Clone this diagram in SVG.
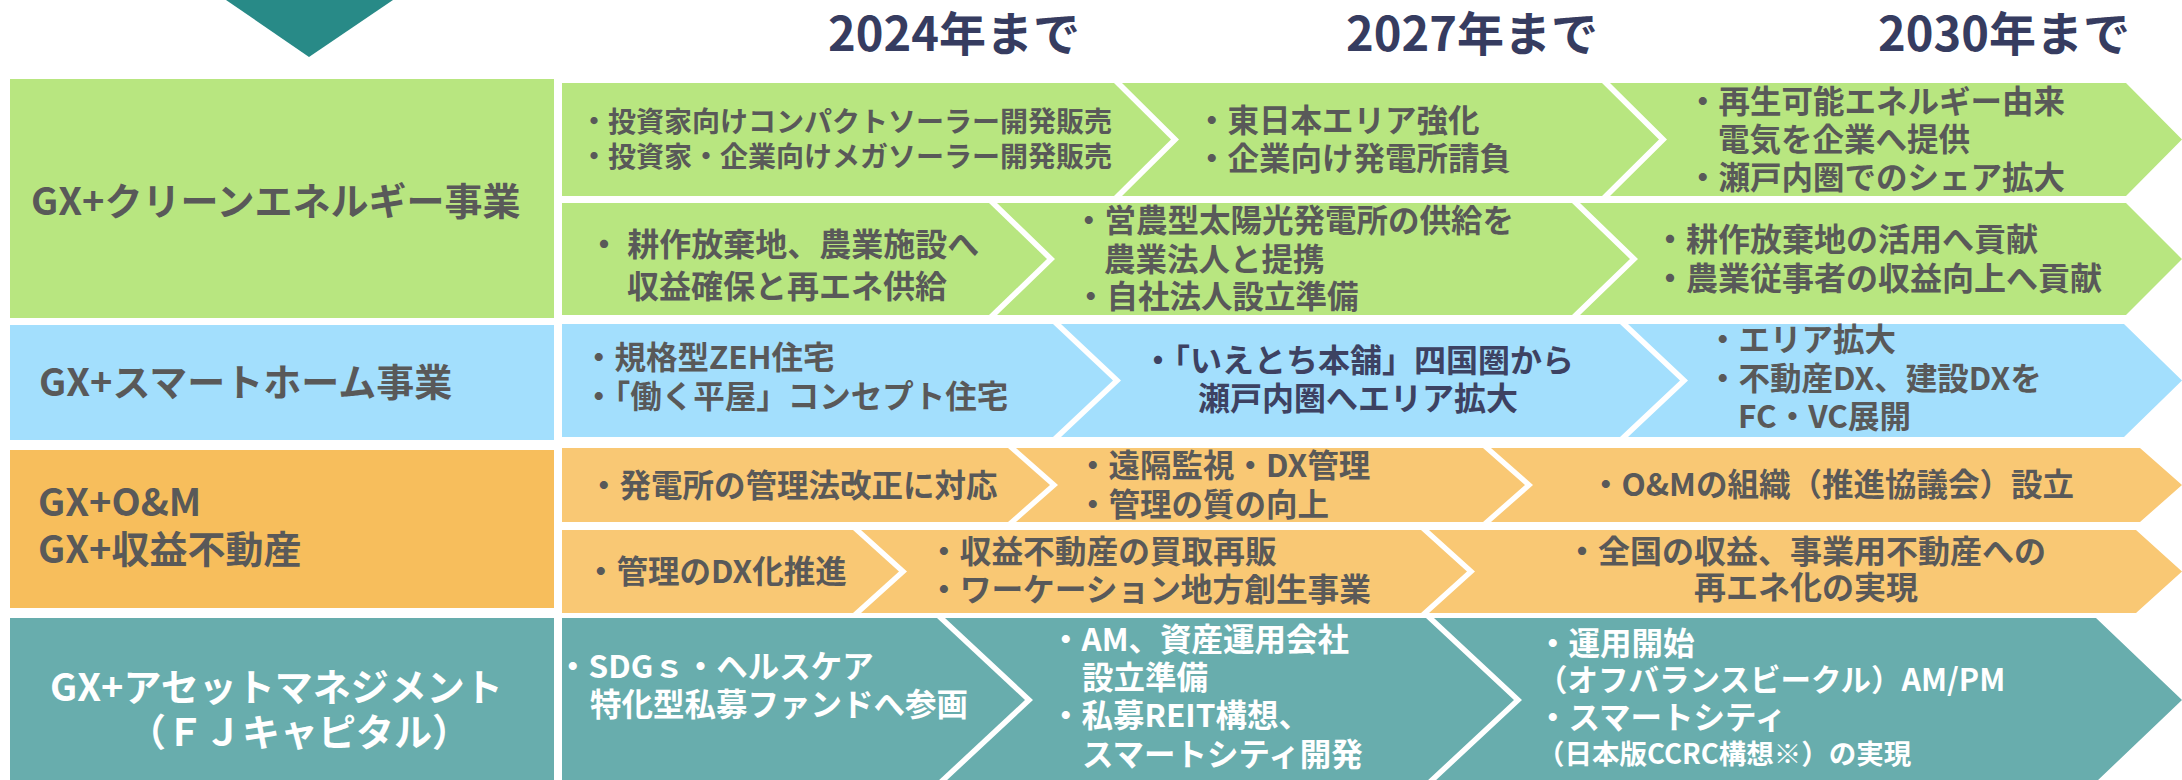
<svg xmlns="http://www.w3.org/2000/svg" width="2182" height="780" viewBox="0 0 2182 780">
<style>
text{font-family:"Noto Sans CJK JP","Noto Sans",sans-serif;font-weight:bold;fill:#595959}
.yr{font-size:47px;fill:#363c60}
.lbl{font-size:38px}
.t{font-size:31.5px}
.w{fill:#ffffff}
.nv{fill:#3d4262}
.g{fill:#b8e680}
.b{fill:#a3dffd}
.ol{fill:#f7be5c}
.o{fill:#f9c874}
.tl{fill:#68adad}
</style>
<rect width="2182" height="780" fill="#ffffff"/>
<g id="marker-triangle"><polygon points="226,0 393,0 309,57" fill="#288a87"/></g>
<g id="years">
<text class="yr" x="828" y="51">2024年まで</text>
<text class="yr" x="1346" y="51">2027年まで</text>
<text class="yr" x="1878" y="51">2030年まで</text>
</g>

<g id="label-clean-energy"><rect class="g" x="10" y="79" width="544" height="239"/><text class="lbl" x="31" y="215">GX+クリーンエネルギー事業</text></g>
<g id="label-smart-home"><rect class="b" x="10" y="325" width="544" height="115"/><text class="lbl" x="39" y="396">GX+スマートホーム事業</text></g>
<g id="label-om"><rect class="ol" x="10" y="450" width="544" height="158"/><text class="lbl" x="38" y="516">GX+O&amp;M</text><text class="lbl" x="38" y="563">GX+収益不動産</text></g>
<g id="label-am"><rect class="tl" x="10" y="618" width="544" height="162"/><text class="lbl w" x="50" y="701">GX+アセットマネジメント</text><text class="lbl w" x="128" y="746">（ＦＪキャピタル）</text></g>

<g id="ce1-1"><polygon class="g" points="562,83 1114,83 1171,139.5 1114,196 562,196"/>
<text x="580" y="132" style="font-size:28px">・投資家向けコンパクトソーラー開発販売</text>
<text x="580" y="167" style="font-size:28px">・投資家・企業向けメガソーラー開発販売</text></g>
<g id="ce1-2"><polygon class="g" points="1122,83 1602,83 1659,139.5 1602,196 1122,196 1179,139.5"/>
<text class="t" x="1196" y="132">・東日本エリア強化</text>
<text class="t" x="1196" y="170">・企業向け発電所請負</text></g>
<g id="ce1-3"><polygon class="g" points="1610,83 2126,83 2182,139.5 2126,196 1610,196 1667,139.5"/>
<text class="t" x="1687" y="113">・再生可能エネルギー由来</text>
<text class="t" x="1718" y="151">電気を企業へ提供</text>
<text class="t" x="1687" y="189">・瀬戸内圏でのシェア拡大</text></g>

<g id="ce2-1"><polygon class="g" points="562,203 989,203 1047,259 989,315 562,315"/>
<text x="588" y="256" style="font-size:32px">・ 耕作放棄地、農業施設へ</text>
<text x="627" y="298" style="font-size:32px">収益確保と再エネ供給</text></g>
<g id="ce2-2"><polygon class="g" points="997,203 1572,203 1630,259 1572,315 997,315 1055,259"/>
<text class="t" x="1073" y="232">・営農型太陽光発電所の供給を</text>
<text class="t" x="1104" y="271">農業法人と提携</text>
<text class="t" x="1075" y="308">・自社法人設立準備</text></g>
<g id="ce2-3"><polygon class="g" points="1580,203 2126,203 2182,259 2126,315 1580,315 1638,259"/>
<text x="1654" y="251" style="font-size:32px">・耕作放棄地の活用へ貢献</text>
<text x="1654" y="290" style="font-size:32px">・農業従事者の収益向上へ貢献</text></g>

<g id="sh-1"><polygon class="b" points="562,324 1053,324 1113,380.5 1053,437 562,437"/>
<text class="t" x="583" y="369">・規格型ZEH住宅</text>
<text class="t" x="583" y="408">・「働く平屋」コンセプト住宅</text></g>
<g id="sh-2"><polygon class="b" points="1061,324 1620,324 1680,380.5 1620,437 1061,437 1121,380.5"/>
<text class="nv" x="1358" y="372" text-anchor="middle" style="font-size:32px">・「いえとち本舗」四国圏から</text>
<text class="nv" x="1358" y="410" text-anchor="middle" style="font-size:32px">瀬戸内圏へエリア拡大</text></g>
<g id="sh-3"><polygon class="b" points="1628,324 2124,324 2182,380.5 2124,437 1628,437 1688,380.5"/>
<text class="t" x="1707" y="351">・エリア拡大</text>
<text class="t" x="1707" y="390">・不動産DX、建設DXを</text>
<text class="t" x="1738" y="428">FC・VC展開</text></g>

<g id="om1-1"><polygon class="o" points="562,448 1008,448 1050,485 1008,522 562,522"/>
<text class="t" x="588" y="497">・発電所の管理法改正に対応</text></g>
<g id="om1-2"><polygon class="o" points="1016,448 1483,448 1525,485 1483,522 1016,522 1058,485"/>
<text class="t" x="1077" y="477">・遠隔監視・DX管理</text>
<text class="t" x="1077" y="516">・管理の質の向上</text></g>
<g id="om1-3"><polygon class="o" points="1491,448 2140,448 2182,485 2140,522 1491,522 1533,485"/>
<text class="t" x="1590" y="496">・O&amp;Mの組織（推進協議会）設立</text></g>

<g id="om2-1"><polygon class="o" points="562,530 853,530 899,571.5 853,613 562,613"/>
<text class="t" x="585" y="583">・管理のDX化推進</text></g>
<g id="om2-2"><polygon class="o" points="861,530 1421,530 1467,571.5 1421,613 861,613 907,571.5"/>
<text x="928" y="563" style="font-size:31.7px">・収益不動産の買取再販</text>
<text x="928" y="601" style="font-size:31.7px">・ワーケーション地方創生事業</text></g>
<g id="om2-3"><polygon class="o" points="1429,530 2136,530 2182,571.5 2136,613 1429,613 1475,571.5"/>
<text x="1806" y="563" text-anchor="middle" style="font-size:32px">・全国の収益、事業用不動産への</text>
<text x="1806" y="599" text-anchor="middle" style="font-size:32px">再エネ化の実現</text></g>

<g id="am-1"><polygon class="tl" points="562,618 937,618 1025,700 937,782 562,782"/>
<text class="t w" x="557" y="678">・SDGｓ・ヘルスケア</text>
<text class="t w" x="590" y="716">特化型私募ファンドへ参画</text></g>
<g id="am-2"><polygon class="tl" points="945,618 1426,618 1514,700 1426,782 945,782 1033,700"/>
<text class="t w" x="1050" y="651">・AM、資産運用会社</text>
<text class="t w" x="1082" y="689">設立準備</text>
<text class="t w" x="1050" y="727">・私募REIT構想、</text>
<text class="t w" x="1082" y="766">スマートシティ開発</text></g>
<g id="am-3"><polygon class="tl" points="1434,618 2096,618 2182,700 2096,782 1434,782 1522,700"/>
<text class="t w" x="1537" y="655">・運用開始</text>
<text class="w" x="1537" y="691" style="font-size:30.5px">（オフバランスビークル）AM/PM</text>
<text class="t w" x="1537" y="729">・スマートシティ</text>
<text class="w" x="1537" y="764" style="font-size:27.5px">（日本版CCRC構想※）の実現</text></g>
<g id="connectors"></g>
</svg>
